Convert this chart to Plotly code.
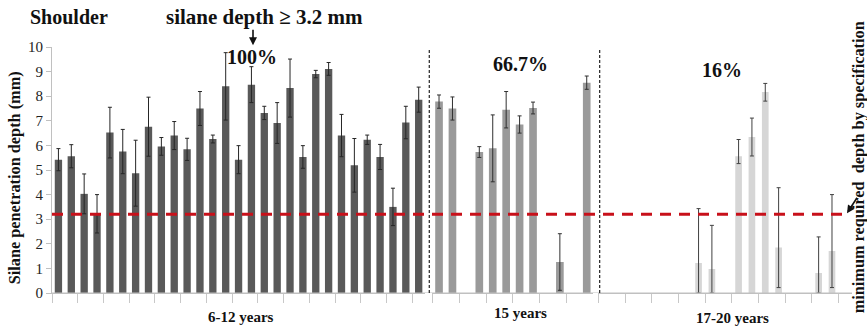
import plotly.graph_objects as go

# ---------------- data ----------------
THRESHOLD = 3.2

g1_labels = [f"A{i+1}" for i in range(29)]
g1_vals = [5.42, 5.56, 4.03, 3.22, 6.52, 5.75, 4.87, 6.76, 5.96, 6.40,
           5.84, 7.50, 6.26, 8.40, 5.42, 8.47, 7.32, 6.91, 8.33, 5.53,
           8.90, 9.11, 6.40, 5.19, 6.23, 5.53, 3.50, 6.93, 7.86]
g1_err = [0.45, 0.47, 0.81, 0.78, 1.03, 0.90, 1.34, 1.20, 0.36, 0.57,
          0.45, 0.69, 0.16, 1.37, 0.57, 0.73, 0.27, 0.83, 1.18, 0.46,
          0.15, 0.26, 0.86, 1.09, 0.19, 0.51, 0.76, 0.66, 0.51]

g2_labels = [f"B{i+1}" for i in range(12)]
g2_vals = [7.78, 7.50, None, 5.73, 5.88, 7.45, 6.85, 7.52, None, 1.26, None, 8.55]
g2_err = [0.27, 0.47, 0, 0.22, 1.36, 0.74, 0.35, 0.24, 0, 1.15, 0, 0.27]

g3_labels = [f"C{i+1}" for i in range(19)]
g3_vals = [None, None, None, None, None, None, None, 1.22, 0.98, None,
           5.56, 6.34, 8.17, 1.85, None, None, 0.81, 1.71, None]
g3_err_up = [0, 0, 0, 0, 0, 0, 0, 2.21, 1.77, 0,
             0.68, 0.77, 0.35, 2.43, 0, 0, 1.47, 2.29, 0]
g3_err_down = [0, 0, 0, 0, 0, 0, 0, 1.22, 0.98, 0,
               0.30, 0.77, 0.37, 1.63, 0, 0, 0.81, 1.49, 0]

group_names = ["6-12 years", "15 years", "17-20 years"]
pass_rates = ["100%", "66.7%", "16%"]
y_ticks = list(range(0, 11))

# ---------------- figure ----------------
SERIF = "Liberation Serif, Times New Roman, serif"

fig = go.Figure()
fig.add_trace(go.Bar(
    x=g1_labels, y=g1_vals, xaxis="x", yaxis="y", width=0.57,
    marker=dict(color="#595959", line=dict(width=0)),
    error_y=dict(type="data", array=g1_err, color="#262626", thickness=1, width=2),
))
fig.add_trace(go.Bar(
    x=g2_labels, y=g2_vals, xaxis="x2", yaxis="y", width=0.57,
    marker=dict(color="#9a9a9a", line=dict(width=0)),
    error_y=dict(type="data", array=g2_err, color="#303030", thickness=1, width=2),
))
fig.add_trace(go.Bar(
    x=g3_labels, y=g3_vals, xaxis="x3", yaxis="y", width=0.5,
    marker=dict(color="#d6d6d6", line=dict(width=0)),
    error_y=dict(type="data", symmetric=False, array=g3_err_up,
                 arrayminus=g3_err_down, color="#404040", thickness=1, width=2),
))

xcommon = dict(type="category", showticklabels=False, showgrid=False, zeroline=False,
               ticks="outside", tickson="boundaries", ticklen=9, tickcolor="#c8c8c8",
               showline=True, linecolor="#c0c0c0", linewidth=1, anchor="y", fixedrange=True)

fig.update_layout(
    width=867, height=327,
    margin=dict(l=52, r=15, t=47, b=34),
    paper_bgcolor="white", plot_bgcolor="white",
    showlegend=False,
    font=dict(family=SERIF, color="#111"),
    xaxis=dict(domain=[0.0, 0.4664], range=[-0.5, len(g1_labels) - 0.5], **xcommon),
    xaxis2=dict(domain=[0.4754, 0.6768], range=[-0.5, len(g2_labels) - 0.5], **xcommon),
    xaxis3=dict(domain=[0.6831, 1.0], range=[-0.5, len(g3_labels) - 0.5], **xcommon),
    yaxis=dict(range=[0, 10], tickvals=y_ticks, showgrid=False, zeroline=False,
               showline=True, linecolor="#c0c0c0", linewidth=1,
               ticks="outside", ticklen=5, tickcolor="#c0c0c0",
               tickfont=dict(family=SERIF, size=15, color="#222"), fixedrange=True),
)

shapes = [
    # continuous bottom axis line
    dict(type="line", xref="paper", yref="y", x0=0, x1=1, y0=0, y1=0,
         line=dict(color="#c0c0c0", width=1)),
    # threshold line
    dict(type="line", xref="paper", yref="y", x0=0, x1=0.991, y0=THRESHOLD, y1=THRESHOLD,
         line=dict(color="#c8101a", width=3, dash="11px,8px")),
    # group separators
    dict(type="line", xref="paper", yref="paper", x0=0.4716, x1=0.4716, y0=0, y1=0.99,
         line=dict(color="#222", width=1.2, dash="3px,2px")),
    dict(type="line", xref="paper", yref="paper", x0=0.6846, x1=0.6846, y0=0, y1=0.99,
         line=dict(color="#222", width=1.2, dash="3px,2px")),
]
fig.update_layout(shapes=shapes)

bold = lambda s: f"<b>{s}</b>"
ann = [
    dict(text=bold("Shoulder"), x=0.02125, y=1.1207, size=20),
    dict(text=bold("silane depth ≥ 3.2 mm"), x=0.2656, y=1.1207, size=21),
    dict(text=bold(pass_rates[0]), x=0.25, y=0.958, size=20),
    dict(text=bold(pass_rates[1]), x=0.586, y=0.930, size=20),
    dict(text=bold(pass_rates[2]), x=0.8375, y=0.906, size=20),
    dict(text=bold(group_names[0]), x=0.236, y=-0.099, size=15),
    dict(text=bold(group_names[1]), x=0.585, y=-0.0825, size=15),
    dict(text=bold(group_names[2]), x=0.85, y=-0.103, size=15),
]
for a in ann:
    fig.add_annotation(text=a["text"], x=a["x"], y=a["y"], xref="paper", yref="paper",
                       xanchor="center", yanchor="middle", showarrow=False,
                       font=dict(family=SERIF, size=a["size"], color="#111"))

# y axis title
fig.add_annotation(text=bold("Silane penetration depth (mm)"), x=-0.0475, y=0.466,
                   xref="paper", yref="paper", textangle=-90, showarrow=False,
                   xanchor="center", yanchor="middle",
                   font=dict(family=SERIF, size=16.3, color="#111"))
# right side note
fig.add_annotation(text=bold("minimum required  depth by specification"), x=1.0085, y=0.51,
                   xref="paper", yref="paper", textangle=-90, showarrow=False,
                   xanchor="center", yanchor="middle",
                   font=dict(family=SERIF, size=16.3, color="#111"))
# arrows
fig.add_annotation(text="", x=0.25125, y=1.0069, xref="paper", yref="paper",
                   showarrow=True, ax=0, ay=-17, arrowhead=2, arrowsize=1,
                   arrowwidth=1.6, arrowcolor="#111")
fig.add_annotation(text="", x=0.99375, y=0.324, xref="paper", yref="paper",
                   showarrow=True, ax=11, ay=-17, arrowhead=2, arrowsize=1,
                   arrowwidth=1.6, arrowcolor="#111")

fig.write_html("out.html", config={"displayModeBar": False},
               post_script="document.body.style.margin='0';document.body.style.overflow='hidden';")
